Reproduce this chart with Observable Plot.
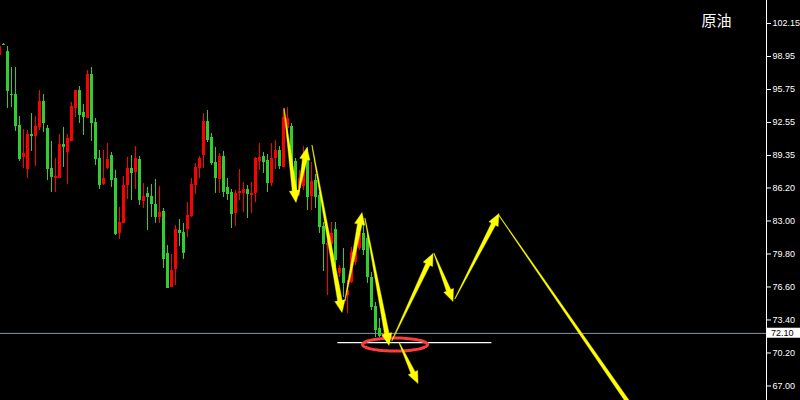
<!DOCTYPE html>
<html><head><meta charset="utf-8">
<script src="https://cdn.jsdelivr.net/npm/d3@7"></script>
<script src="https://cdn.jsdelivr.net/npm/@observablehq/plot@0.6"></script>
<style>html,body{margin:0;padding:0;background:#000;overflow:hidden;}</style>
</head><body><div id="chart"></div>
<script>
const title = "原油";
const firstIndex = -1;
const opens = [99.05,100.11,99.43,95.26,95.26,92.26,89.16,87.99,91.39,91.19,92.07,94.59,91.97,88.09,87.12,87.12,90.42,89.64,90.71,93.91,95.65,93.52,92.94,97.20,92.55,89.06,86.54,88.09,89.35,87.12,81.79,82.76,86.44,88.09,87.70,88.96,84.89,85.67,85.37,84.60,83.34,83.92,79.85,76.55,78.30,82.08,81.88,82.17,83.43,86.44,88.09,89.35,92.65,91.10,88.67,87.02,89.25,86.25,85.76,83.73,85.67,85.67,86.05,85.47,85.67,88.77,89.25,88.87,86.63,89.06,89.83,88.19,91.97,92.16,88.77,86.15,86.34,89.06,85.37,86.93,85.47,82.47,80.62,80.72,82.17,77.91,78.39,75.77,77.03,78.97,80.33,81.79,81.30,77.52,74.71,72.57,71.70];
const highs = [100.11,100.21,99.92,97.88,97.88,93.13,91.87,91.77,93.42,93.13,95.65,95.26,92.26,90.71,89.06,91.39,92.07,91.39,94.49,95.65,96.04,94.30,97.59,97.88,92.94,89.83,89.83,90.51,89.64,87.90,84.31,87.31,89.16,89.35,90.22,89.25,86.63,86.25,86.54,87.02,86.34,84.21,80.62,79.75,82.56,83.14,82.76,84.79,87.12,88.57,89.25,93.42,93.71,91.48,90.13,89.54,89.74,87.12,86.05,85.96,87.99,86.73,86.44,86.73,89.16,90.51,89.64,89.45,90.51,90.80,90.22,93.81,94.00,92.45,89.06,87.90,90.22,90.13,88.67,87.51,85.76,82.85,82.37,82.85,82.85,78.68,80.33,77.23,80.43,81.30,83.05,82.85,81.79,78.00,75.10,73.54,72.09];
const lows = [98.76,100.02,93.91,94.00,91.68,88.77,88.09,87.12,89.74,88.28,91.77,91.58,86.93,85.76,85.76,87.12,88.19,86.54,90.71,93.03,92.45,91.29,92.94,90.71,88.38,86.05,86.44,87.99,86.25,81.59,81.20,82.76,85.08,84.99,86.05,84.50,84.21,82.08,83.34,82.76,82.76,78.39,76.45,76.55,76.74,80.53,79.27,81.40,83.34,85.57,87.12,88.09,90.61,88.38,85.67,85.67,85.28,84.99,82.27,82.47,84.99,83.82,83.24,83.73,84.79,87.90,87.60,85.76,86.34,87.99,87.99,88.19,91.10,87.90,84.99,85.47,85.96,84.02,84.02,84.21,81.79,78.10,75.77,80.33,78.49,77.52,75.58,74.03,76.94,78.68,80.14,79.65,76.94,74.32,71.70,71.70,71.51];
const closes = [99.92,100.02,95.56,95.17,92.16,88.96,89.54,91.39,91.19,92.16,94.59,92.45,87.99,87.22,87.31,90.42,90.13,91.00,94.10,95.65,93.23,93.03,97.20,92.45,88.96,86.44,87.12,88.96,86.93,81.69,82.85,86.44,88.09,87.60,89.06,84.99,85.37,85.28,84.60,83.34,83.82,79.27,76.45,78.20,82.17,81.79,79.85,83.53,86.54,88.19,89.06,92.65,90.80,88.57,87.12,89.25,85.76,85.57,83.63,85.67,85.86,86.05,85.57,85.67,89.06,89.16,88.67,86.63,89.06,89.83,88.28,93.03,92.94,88.19,85.28,87.12,89.16,85.28,86.83,85.28,82.37,80.72,80.82,81.79,79.17,78.39,76.94,76.26,79.94,80.82,81.79,80.14,77.52,74.61,72.38,71.80,71.90];

const tickValues = [102.15, 98.95, 95.75, 92.55, 89.35, 86.20, 83.00, 79.80, 76.60, 73.40, 70.20, 67.00];
const tickLabels = ["102.15","98.95","95.75","92.55","89.35","86.20","83.00","79.80","76.60","73.40","70.20","67.00"];
const currentPrice = 72.10;
const supportPrice = 71.20;
const supportFrom = 83.6;
const supportTo = 122.1;
const ellipseCenterX = 97.88;
const ellipseCenterY = 71.02;
// forecast arrows: from (index, price) to (index, price)
const arrowFromX = [70.13, 73.63, 77.13, 85.38, 90.38, 97.13, 107.63, 112.88, 123.88, 98.88];
const arrowFromY = [93.91, 85.47, 90.32, 75.29, 83.24, 71.41, 79.85, 75.48, 83.53, 71.22];
const arrowToX   = [73.13, 75.88, 84.63, 89.63, 96.38, 107.38, 112.38, 123.88, 164.13, 103.63];
const arrowToY   = [84.79, 90.13, 74.13, 83.82, 70.93, 79.85, 75.19, 83.73, 60.94, 67.24];

const W = 800, H = 400, MR = 34;
const xDomain = [-0.75, 190.75];
const yDomain = [65.592, 104.38];
const sx = d3.scaleLinear(xDomain, [0, W - MR]);
const sy = d3.scaleLinear(yDomain, [H, 0]);

const candles = opens.map((o, i) => ({i: i + firstIndex, open: o, high: highs[i], low: lows[i], close: closes[i]}));
const up = candles.filter(d => d.close >= d.open);
const down = candles.filter(d => d.close < d.open);

// arrow polygons (tapered shaft + head), built in pixel space, expressed in data units
const arrowPts = [];
arrowFromX.forEach((_, k) => {
  const ax = sx(arrowFromX[k]), ay = sy(arrowFromY[k]);
  const bx = sx(arrowToX[k]), by = sy(arrowToY[k]);
  const L = Math.hypot(bx - ax, by - ay);
  const ux = (bx - ax) / L, uy = (by - ay) / L;
  const nx = -uy, ny = ux;
  const hl = 12, hw = 5.2, w0 = 0.25, w1 = 2.3;
  const hx = bx - ux * hl, hy = by - uy * hl;
  const poly = [
    [ax + nx * w0, ay + ny * w0],
    [hx + nx * w1, hy + ny * w1],
    [hx + nx * hw, hy + ny * hw],
    [bx, by],
    [hx - nx * hw, hy - ny * hw],
    [hx - nx * w1, hy - ny * w1],
    [ax - nx * w0, ay - ny * w0]
  ];
  poly.forEach(([px, py]) => arrowPts.push({id: k, x: sx.invert(px), y: sy.invert(py)}));
});

const ellPts = [];
{
  const cx = sx(ellipseCenterX), cy = sy(ellipseCenterY);
  for (let t = 0; t < 72; t++) {
    const a = t / 72 * 2 * Math.PI;
    ellPts.push({x: sx.invert(cx + 32.5 * Math.cos(a)), y: sy.invert(cy + 6.5 * Math.sin(a))});
  }
}

const RED = "#ff0000", GREEN = "#32cd32", YELLOW = "#ffff00";
const font = "'Liberation Sans', Arial, sans-serif";

const chart = Plot.plot({
  width: W, height: H,
  marginLeft: 0, marginRight: MR, marginTop: 0, marginBottom: 0,
  style: {background: "#000", color: "#fff", fontFamily: font, fontSize: "9px", overflow: "hidden"},
  x: {domain: xDomain, axis: null},
  y: {domain: yDomain, axis: "right", ticks: tickValues, tickFormat: d => tickLabels[tickValues.indexOf(d)], tickSize: 4, tickPadding: 2, line: true, label: null},
  marks: [
    Plot.ruleY([currentPrice], {x1: xDomain[0], x2: xDomain[1], stroke: "#8a939c", strokeWidth: 1}),
    Plot.ruleX(up, {x: "i", y1: "low", y2: "high", stroke: RED, strokeWidth: 1}),
    Plot.ruleX(down, {x: "i", y1: "low", y2: "high", stroke: GREEN, strokeWidth: 1}),
    Plot.ruleX(up, {x: "i", y1: "open", y2: "close", stroke: RED, strokeWidth: 3}),
    Plot.ruleX(down, {x: "i", y1: "open", y2: "close", stroke: GREEN, strokeWidth: 3}),
    Plot.ruleY([supportPrice], {x1: supportFrom, x2: supportTo, stroke: "#fff", strokeWidth: 1.2}),
    Plot.line(ellPts, {x: "x", y: "y", stroke: "#ff3c3c", strokeWidth: 3, curve: "linear-closed"}),
    Plot.line(arrowPts, {x: "x", y: "y", z: "id", fill: YELLOW, stroke: YELLOW, strokeWidth: 0.4, strokeLinejoin: "round", curve: "linear-closed"}),
    Plot.rect([currentPrice], {x1: 191, x2: 199.3, y1: d => d - 0.47, y2: d => d + 0.5, fill: "#fff"}),
    Plot.text([currentPrice], {x: 191.9, y: d => d, text: d => d.toFixed(2), fill: "#000", textAnchor: "start", fontSize: 9}),
    Plot.text([title], {text: d => d, frameAnchor: "top-right", dx: -35, dy: 21, textAnchor: "end", lineAnchor: "middle", fill: "#fff", fontSize: 15, fontFamily: "'Noto Sans CJK SC', sans-serif"})
  ]
});
document.getElementById("chart").appendChild(chart);
</script>
</body></html>
